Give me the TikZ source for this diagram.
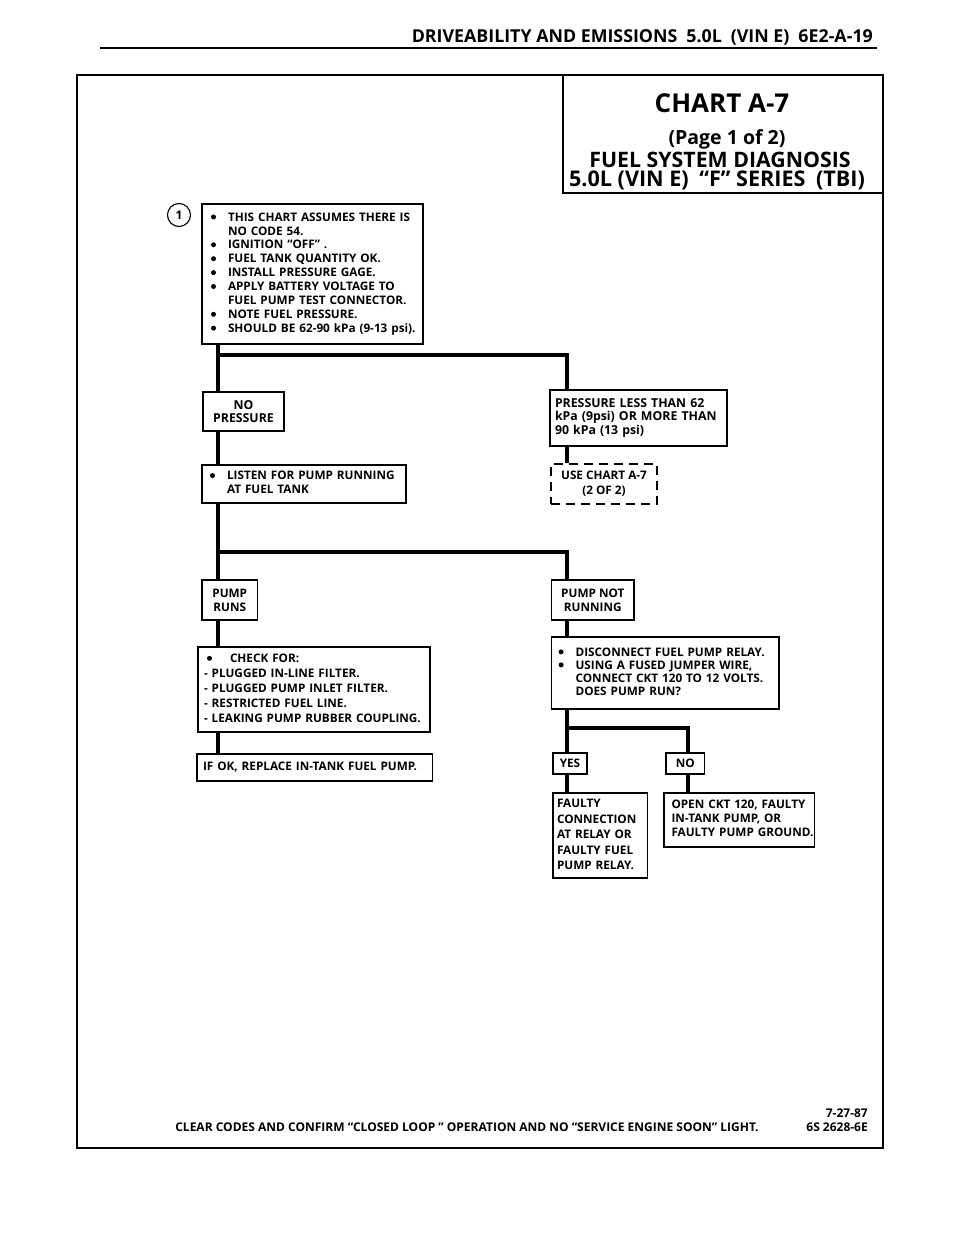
\documentclass[tikz,border=0pt]{standalone}
\usepackage{fontspec}
\setmainfont{Open Sans}
\newcommand\bu{\tikz[baseline=-4.2pt]\fill (0,0) circle (2.5pt);}
\newcommand\bl{\makebox[18pt][l]{\hspace{1pt}\bu}}
\newcommand\ind{\hspace*{18pt}}
\newcommand\tl[1]{\begin{tabular}{@{}l@{}}#1\end{tabular}}
\begin{document}
\begin{tikzpicture}[x=1pt,y=-1pt,
  boxc/.style={draw, line width=1.5pt, inner sep=0pt, align=center, font=\bfseries\fontsize{11.75}{#1}\selectfont},
  boxl/.style={draw, line width=1.5pt, inner ysep=0pt, align=left, font=\bfseries\fontsize{11.75}{#1}\selectfont},
  dashbox/.style={draw, line width=2.2pt, dash pattern=on 9pt off 6pt, inner sep=0pt, align=center, font=\bfseries\fontsize{11.75}{15}\selectfont},
  conn/.style={line width=4pt, line join=miter, line cap=butt},
  txt/.style={inner sep=0pt, font=\bfseries\fontsize{#1}{#1}\selectfont}]
\fill[white] (0,0) rectangle (960,1242);
\useasboundingbox (0,0) rectangle (960,1242);

% header
\node[txt=17.8, anchor=east] (hdr) at (873,37) {DRIVEABILITY AND EMISSIONS\hspace{9pt}5.0L\hspace{9pt}(VIN E)\hspace{9pt}6E2-A-19};
\draw[line width=1.3pt] (100,48) -- (877,48);

% frame and title box
\draw[line width=2.6pt] (77,75) rectangle (883,1148);
\node[draw, line width=2pt, minimum width=320, minimum height=118, inner sep=0pt] (tbox) at (723,134) {};
\node[txt=26] (t1) at (722,103) {CHART A-7};
\node[txt=19.5] (t2) at (727,139) {(Page 1 of 2)};
\node[txt=21.3] (t3) at (720,159.5) {FUEL SYSTEM DIAGNOSIS};
\node[txt=21.6] (t4) at (717,180.5) {5.0L (VIN E)\hspace{5pt} “F” SERIES\hspace{5pt} (TBI)};

% boxes
\node[draw, circle, line width=1.1pt, minimum size=23, inner sep=0pt, font=\bfseries\fontsize{12}{14}\selectfont] (c1) at (179,215) {1};
\node[boxl=13.9, inner xsep=8, text width=205, minimum height=140] (b1) at (312.5,274) {\tl{\bl THIS CHART ASSUMES THERE IS\\\ind NO CODE 54.\\\bl IGNITION “OFF” .\\\bl FUEL TANK QUANTITY OK.\\\bl INSTALL PRESSURE GAGE.\\\bl APPLY BATTERY VOLTAGE TO\\\ind FUEL PUMP TEST CONNECTOR.\\\bl NOTE FUEL PRESSURE.\\\bl SHOULD BE 62-90 kPa (9-13 psi).}};

\node[boxc=13.5, minimum width=81, minimum height=39, font=\bfseries\fontsize{12.3}{13.5}\selectfont] (nop) at (243.5,411.5) {NO\\PRESSURE};
\node[boxl=13.5, inner xsep=5, text width=167, minimum height=56, font=\bfseries\fontsize{12.3}{13.5}\selectfont] (plt) at (638.5,418) {\tl{PRESSURE LESS THAN 62\\kPa (9psi) OR MORE THAN\\90 kPa (13 psi)}};
\node[boxl=14, inner xsep=7, text width=190, minimum height=38] (lis) at (304,484) {\tl{\bl LISTEN FOR PUMP RUNNING\\\ind AT FUEL TANK}};
\node[dashbox, minimum width=106, minimum height=40] (use) at (604,484) {USE CHART A-7\\(2 OF 2)};

\node[boxc=14, minimum width=55.5, minimum height=40] (pr) at (229.75,600) {PUMP\\RUNS};
\node[boxc=14, minimum width=82.4, minimum height=40] (pnr) at (592.8,600) {PUMP NOT\\RUNNING};
\node[boxl=15, inner xsep=6, text width=220, minimum height=85] (chk) at (314,689.5) {\tl{\hspace*{3pt}\makebox[23pt][l]{\bu}CHECK FOR:\\- PLUGGED IN-LINE FILTER.\\- PLUGGED PUMP INLET FILTER.\\- RESTRICTED FUEL LINE.\\- LEAKING PUMP RUBBER COUPLING.}};
\node[boxl=13, inner xsep=6, text width=215.4, minimum height=72] (dis) at (665.3,673) {\tl{\bl DISCONNECT FUEL PUMP RELAY.\\\bl USING A FUSED JUMPER WIRE,\\\ind CONNECT CKT 120 TO 12 VOLTS.\\\ind DOES PUMP RUN?}};
\node[boxl=14, inner xsep=6, text width=223.5, minimum height=27] (ifok) at (314.75,767.5) {\tl{IF OK, REPLACE IN-TANK FUEL PUMP.}};
\node[boxc=14, minimum width=34, minimum height=21] (yes) at (570,763.5) {YES};
\node[boxc=14, minimum width=38.5, minimum height=21] (no) at (685.25,763.5) {NO};
\node[boxl=15.5, inner xsep=4, text width=86.5, minimum height=85] (flt) at (600.25,835.5) {\tl{FAULTY\\CONNECTION\\AT RELAY OR\\FAULTY FUEL\\PUMP RELAY.}};
\node[boxl=14, inner xsep=7.5, text width=135.5, minimum height=54] (opn) at (739.25,820) {\tl{OPEN CKT 120, FAULTY\\IN-TANK PUMP, OR\\FAULTY PUMP GROUND.}};

% junction coordinates
\coordinate (L) at (218,0);
\coordinate (R) at (567,0);
\coordinate (N) at (687.5,0);
\coordinate (j1) at (218,355);
\coordinate (j1r) at (567,355);
\coordinate (j2) at (218,552);
\coordinate (j2r) at (567,552);
\coordinate (j3) at (567,728);
\coordinate (j3r) at (687.5,728);

% connectors
\draw[conn] (b1.south -| L) -- (nop.north -| L);
\draw[conn] (j1) -- (j1r) -- (plt.north -| R);
\draw[conn] (plt.south -| R) -- (use.north -| R);
\draw[conn] (nop.south -| L) -- (lis.north -| L);
\draw[conn] (lis.south -| L) -- (pr.north -| L);
\draw[conn] (j2) -- (j2r) -- (pnr.north -| R);
\draw[conn] (pr.south -| L) -- (chk.north -| L);
\draw[conn] (chk.south -| L) -- (ifok.north -| L);
\draw[conn] (pnr.south -| R) -- (dis.north -| R);
\draw[conn] (dis.south -| R) -- (yes.north -| R);
\draw[conn] (j3) -- (j3r) -- (no.north -| N);
\draw[conn] (yes.south -| R) -- (flt.north -| R);
\draw[conn] (no.south -| N) -- (opn.north -| N);

% footer
\node[txt=12] (foot) at (467,1127) {CLEAR CODES AND CONFIRM “CLOSED LOOP ” OPERATION AND NO “SERVICE ENGINE SOON” LIGHT.};
\node[txt=12, anchor=east] (d1) at (868,1113) {7-27-87};
\node[txt=12, anchor=east] (d2) at (868,1127) {6S 2628-6E};
\end{tikzpicture}
\end{document}
